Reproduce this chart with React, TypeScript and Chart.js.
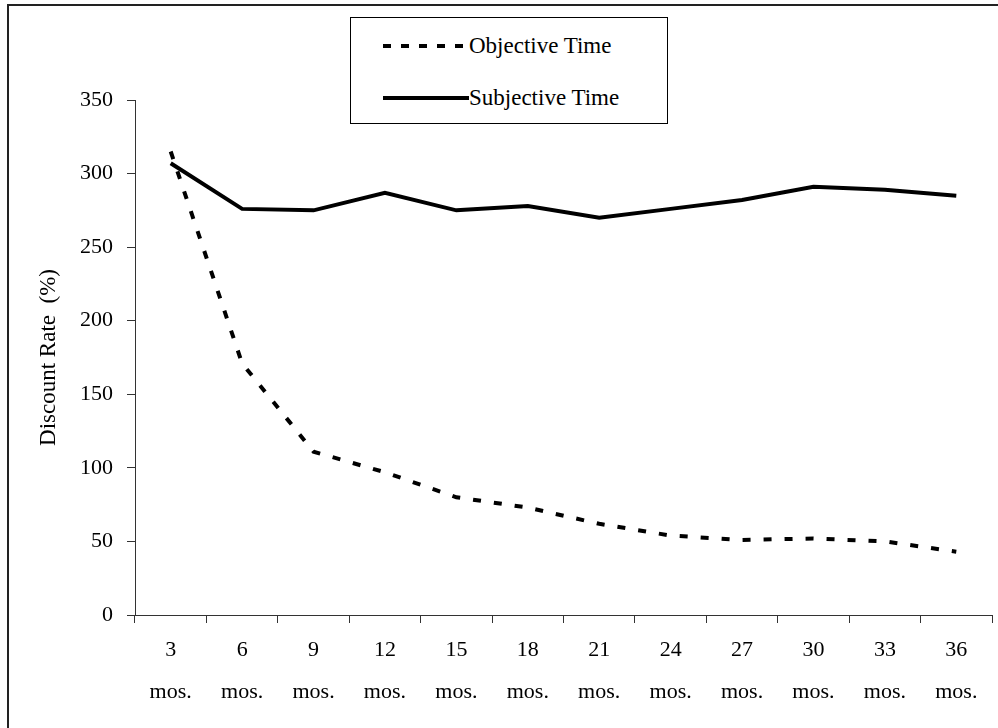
import React, { useEffect, useRef } from "react";
import { Chart, registerables } from "chart.js";

Chart.register(...registerables);

const categories = ["3", "6", "9", "12", "15", "18", "21", "24", "27", "30", "33", "36"];
const unitLabel = "mos.";
const objectiveTime = [315, 171, 111, 97, 80, 73, 62, 54, 51, 52, 50, 43];
const subjectiveTime = [307, 276, 275, 287, 275, 278, 270, 276, 282, 291, 289, 285];
const seriesNames = ["Objective Time", "Subjective Time"];
const yMin = 0;
const yMax = 350;
const yStep = 50;
const yTitle = "Discount Rate  (%)";

const FONT = "'Liberation Serif', 'Times New Roman', serif";

export default function App() {
  const canvasRef = useRef<HTMLCanvasElement | null>(null);

  useEffect(() => {
    const canvas = canvasRef.current;
    if (!canvas) return;
    const chart = new Chart(canvas, {
      type: "line",
      data: {
        labels: categories.map((c) => [c, unitLabel]),
        datasets: [
          {
            label: seriesNames[0],
            data: objectiveTime,
            borderColor: "#000",
            borderWidth: 4,
            borderDash: [8, 13],
            borderCapStyle: "butt",
            pointRadius: 0,
            tension: 0,
            fill: false,
          },
          {
            label: seriesNames[1],
            data: subjectiveTime,
            borderColor: "#000",
            borderWidth: 4,
            pointRadius: 0,
            tension: 0,
            fill: false,
          },
        ],
      },
      options: {
        responsive: false,
        animation: false,
        layout: { padding: { left: 0, top: 100, right: 6, bottom: 0 } },
        plugins: {
          legend: { display: false },
          tooltip: { enabled: false },
        },
        scales: {
          x: {
            type: "category",
            offset: true,
            grid: {
              offset: true,
              drawOnChartArea: false,
              drawTicks: true,
              tickLength: 8,
              color: "#333",
            },
            border: { color: "#333", width: 1 },
            ticks: {
              color: "#000",
              padding: 6,
              maxRotation: 0,
              autoSkip: false,
              font: { family: FONT, size: 22, lineHeight: 1.91 },
            },
            afterFit: (scale: any) => {
              scale.height = 113;
            },
          },
          y: {
            min: yMin,
            max: yMax,
            grid: {
              drawOnChartArea: false,
              drawTicks: true,
              tickLength: 8,
              color: "#333",
            },
            border: { color: "#333", width: 1 },
            ticks: {
              stepSize: yStep,
              color: "#000",
              padding: 14,
              font: { family: FONT, size: 22 },
            },
            title: {
              display: true,
              text: yTitle,
              color: "#000",
              font: { family: FONT, size: 23 },
              padding: { top: 35, bottom: 0 },
            },
            afterFit: (scale: any) => {
              scale.width = 135;
            },
          },
        },
      },
    });
    return () => chart.destroy();
  }, []);

  const legendRow = (dashed: boolean, name: string, top: number) => (
    <div
      key={name}
      style={{
        position: "absolute",
        left: 32,
        top,
        height: 30,
        display: "flex",
        alignItems: "center",
        whiteSpace: "nowrap",
      }}
    >
      <svg width={86} height={10} style={{ display: "block" }}>
        <line
          x1={0}
          y1={5}
          x2={86}
          y2={5}
          stroke="#000"
          strokeWidth={4}
          strokeDasharray={dashed ? "8 10" : undefined}
        />
      </svg>
      <span style={{ fontFamily: FONT, fontSize: 23, color: "#000", lineHeight: "30px" }}>{name}</span>
    </div>
  );

  return (
    <div
      style={{
        position: "absolute",
        left: 0,
        top: 0,
        width: 998,
        height: 728,
        overflow: "hidden",
        background: "#fff",
      }}
    >
      <div
        style={{
          position: "absolute",
          left: 7,
          top: 4,
          width: 1200,
          height: 1000,
          borderLeft: "2px solid #222",
          borderTop: "2px solid #222",
        }}
      />
      <canvas
        ref={canvasRef}
        width={998}
        height={728}
        style={{ position: "absolute", left: 0, top: 0, width: 998, height: 728 }}
      />
      <div
        style={{
          position: "absolute",
          left: 350,
          top: 17,
          width: 316,
          height: 105,
          border: "1px solid #000",
          background: "#fff",
        }}
      >
        {legendRow(true, seriesNames[0], 13)}
        {legendRow(false, seriesNames[1], 65)}
      </div>
    </div>
  );
}
